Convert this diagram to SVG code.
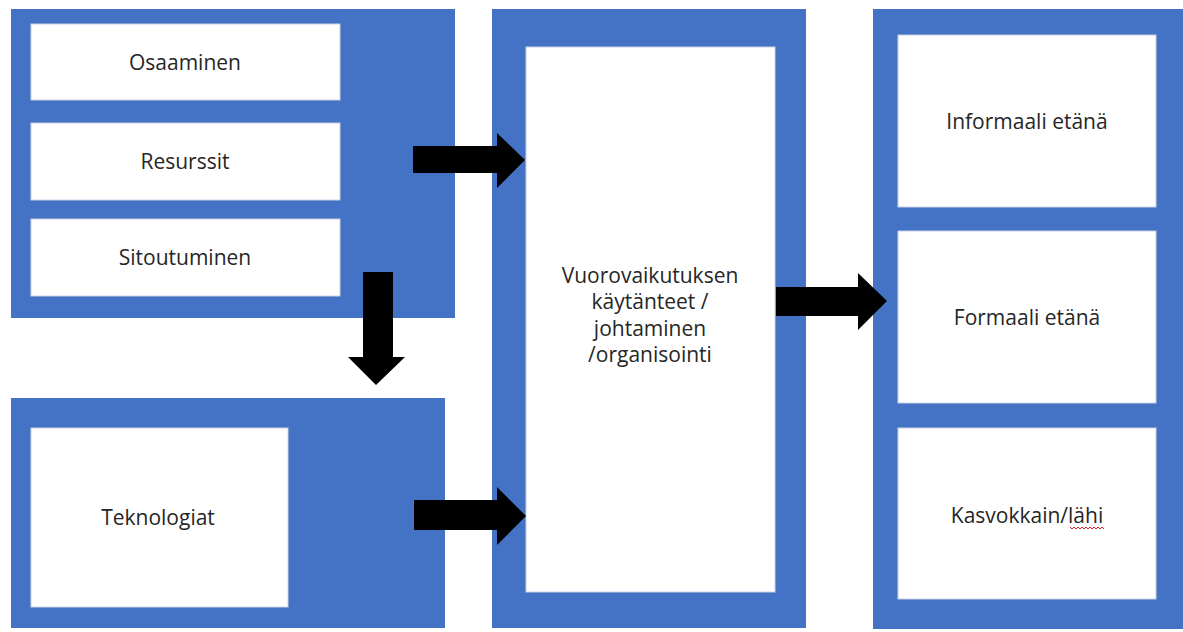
<svg xmlns="http://www.w3.org/2000/svg" width="1183" height="632" viewBox="0 0 1183 632">
<style>
.blue{fill:#4472C4;}
.box{fill:#ffffff;stroke:#c8d2e6;stroke-width:1;}
.lbl{font-family:"Open Sans","Noto Sans",sans-serif;font-size:21px;fill:#262626;text-anchor:middle;dominant-baseline:central;}
.arr{fill:#000000;}
</style>
<rect width="1183" height="632" fill="#ffffff"/>
<g id="left-top">
<rect class="blue" x="11" y="9" width="444" height="309"/>
<g id="osaaminen"><rect class="box" x="31" y="24" width="309" height="76"/><text class="lbl" x="185" y="62">Osaaminen</text></g>
<g id="resurssit"><rect class="box" x="31" y="123" width="309" height="77"/><text class="lbl" x="185" y="161">Resurssit</text></g>
<g id="sitoutuminen"><rect class="box" x="31" y="219" width="309" height="77"/><text class="lbl" x="185" y="257">Sitoutuminen</text></g>
</g>
<g id="left-bottom">
<rect class="blue" x="11" y="398" width="434" height="230"/>
<g id="teknologiat"><rect class="box" x="31" y="428" width="257" height="179"/><text class="lbl" x="158" y="517">Teknologiat</text></g>
</g>
<g id="middle">
<rect class="blue" x="492" y="9" width="314" height="619"/>
<rect class="box" x="526" y="47" width="249" height="545"/>
<text class="lbl" x="650" y="275">Vuorovaikutuksen</text>
<text class="lbl" x="650" y="301">käytänteet /</text>
<text class="lbl" x="650" y="328">johtaminen</text>
<text class="lbl" x="650" y="354">/organisointi</text>
</g>
<g id="right">
<rect class="blue" x="873" y="9" width="310" height="620"/>
<g id="informaali"><rect class="box" x="898" y="35" width="258" height="172"/><text class="lbl" x="1027" y="121">Informaali etänä</text></g>
<g id="formaali"><rect class="box" x="898" y="231" width="258" height="172"/><text class="lbl" x="1027" y="317">Formaali etänä</text></g>
<g id="kasvokkain"><rect class="box" x="898" y="428" width="258" height="171"/><text class="lbl" x="1027" y="515">Kasvokkain/lähi</text>
<path d="M1070 527 l2 2 l2 -2 l2 2 l2 -2 l2 2 l2 -2 l2 2 l2 -2 l2 2 l2 -2 l2 2 l2 -2 l2 2 l2 -2 l2 2 l2 -2 l2 2" fill="none" stroke="#e02020" stroke-width="1"/></g>
</g>
<g id="connectors">
<polygon class="arr" points="413,146 497,146 497,133 525,160 497,188 497,173 413,173"/>
<polygon class="arr" points="414,500 497,500 497,487 526,516 497,545 497,530 414,530"/>
<polygon class="arr" points="363,272 393,272 393,357 405,357 376,385 348,357 363,357"/>
<polygon class="arr" points="776,287 858,287 858,273 887,301 858,330 858,316 776,316"/>
</g>
</svg>
